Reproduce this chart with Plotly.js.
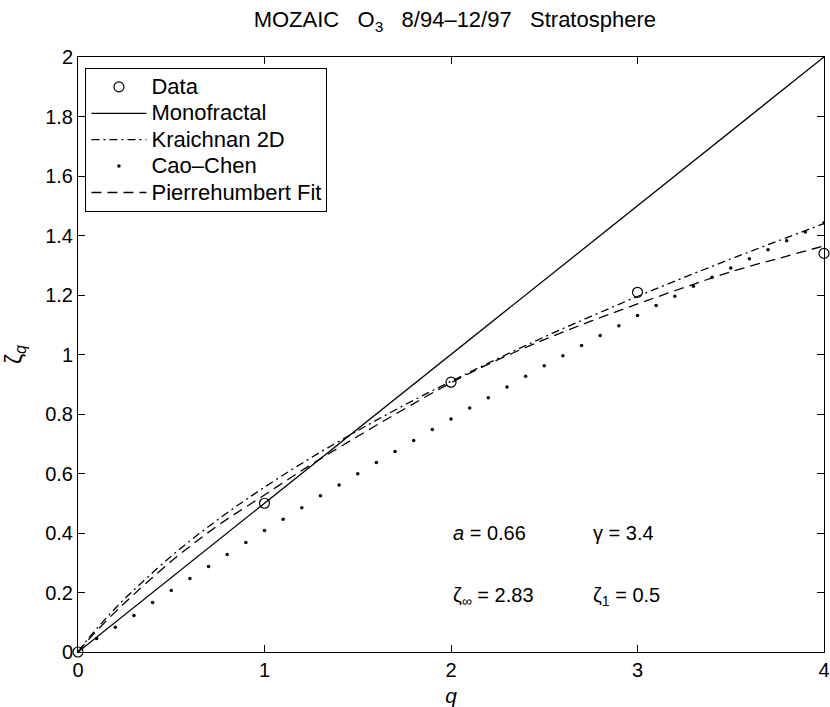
<!DOCTYPE html>
<html>
<head>
<meta charset="utf-8">
<script src="https://cdn.plot.ly/plotly-3.0.1.min.js"></script>
<style>html,body{margin:0;padding:0;background:#fff;}#chart{width:830px;height:707px;}</style>
</head>
<body>
<div id="chart"></div>
<script>
// Data points
const dataQ = [0, 1, 2, 3, 4];
const dataZeta = [0, 0.50, 0.907, 1.209, 1.34];

// Monofractal
const monoQ = [0, 4];
const monoZeta = [0, 2];

// Kraichnan 2D (dash-dot)
const kraQ = [0, 0.05, 0.1, 0.2, 0.25, 0.5, 0.75, 1, 1.25, 1.5, 1.75, 2, 2.25, 2.5, 2.75, 3, 3.25, 3.5, 3.75, 4];
const kraZeta = [0, 0.041, 0.078, 0.147, 0.179, 0.322, 0.445, 0.554, 0.653, 0.744, 0.830, 0.910, 0.986, 1.059, 1.128, 1.195, 1.259, 1.321, 1.381, 1.440];

// Cao-Chen (dots)
const caoQ = [0, 0.1, 0.2, 0.3, 0.4, 0.5, 0.6, 0.7, 0.8, 0.9, 1.0, 1.1, 1.2, 1.3, 1.4, 1.5, 1.6, 1.7, 1.8, 1.9, 2.0,
              2.1, 2.2, 2.3, 2.4, 2.5, 2.6, 2.7, 2.8, 2.9, 3.0, 3.1, 3.2, 3.3, 3.4, 3.5, 3.6, 3.7, 3.8, 3.9, 4.0];
const caoZeta = [0, 0.045, 0.083, 0.123, 0.166, 0.207, 0.247, 0.287, 0.328, 0.368, 0.408, 0.446, 0.485, 0.525, 0.561, 0.599, 0.637, 0.674, 0.711, 0.748, 0.783,
                 0.820, 0.855, 0.891, 0.927, 0.962, 0.996, 1.030, 1.064, 1.097, 1.131, 1.165, 1.196, 1.229, 1.260, 1.291, 1.322, 1.352, 1.382, 1.412, 1.443];

// Pierrehumbert Fit (dashed)
const pieQ = [0, 0.05, 0.1, 0.2, 0.25, 0.5, 0.75, 1, 1.25, 1.5, 1.75, 2, 2.25, 2.5, 2.75, 3, 3.25, 3.5, 3.75, 4];
const pieZeta = [0, 0.037, 0.071, 0.135, 0.165, 0.305, 0.425, 0.528, 0.630, 0.725, 0.817, 0.905, 0.982, 1.050, 1.112, 1.170, 1.225, 1.278, 1.322, 1.365];

const xTicks = [0, 1, 2, 3, 4];
const yTicks = [0, 0.2, 0.4, 0.6, 0.8, 1, 1.2, 1.4, 1.6, 1.8, 2];

const seriesNames = ['Data', 'Monofractal', 'Kraichnan 2D', 'Cao\u2013Chen', 'Pierrehumbert Fit'];

const FONT = 'Liberation Sans, Arial, Helvetica, sans-serif';
const big = s => '<span style="font-size:22px">' + s + '</span>';

const traces = [
  {x: dataQ, y: dataZeta, name: big(seriesNames[0]), mode: 'markers', type: 'scatter',
   marker: {symbol: 'circle-open', size: 10, color: 'black', line: {width: 1.2, color: 'black'}}, cliponaxis: false},
  {x: monoQ, y: monoZeta, name: big(seriesNames[1]), mode: 'lines', type: 'scatter',
   line: {color: 'black', width: 1.3}},
  {x: kraQ, y: kraZeta, name: big(seriesNames[2]), mode: 'lines', type: 'scatter',
   line: {color: 'black', width: 1.3, dash: '8px,4px,2px,4px', shape: 'spline'}},
  {x: caoQ, y: caoZeta, name: big(seriesNames[3]), mode: 'markers', type: 'scatter',
   marker: {symbol: 'circle', size: 3.5, color: 'black'}},
  {x: pieQ, y: pieZeta, name: big(seriesNames[4]), mode: 'lines', type: 'scatter',
   line: {color: 'black', width: 1.3, dash: '10px,6px', shape: 'spline'}}
];

const sp = '\u00a0\u00a0\u00a0';
const layout = {
  width: 830, height: 707,
  margin: {l: 78, r: 6, t: 57, b: 55},
  paper_bgcolor: 'white', plot_bgcolor: 'white',
  font: {family: FONT, size: 18, color: 'black'},
  showlegend: true,
  title: {text: 'MOZAIC' + sp + 'O<sub>3</sub>' + sp + '8/94\u201312/97' + sp + 'Stratosphere',
          font: {family: FONT, size: 22, color: 'black'},
          x: 0.548, xanchor: 'center', y: 0.972, yanchor: 'middle', yref: 'container'},
  xaxis: {range: [0, 4], tickvals: xTicks, ticktext: xTicks.map(String),
          ticks: 'inside', ticklen: 7, tickwidth: 1, tickcolor: 'black',
          showline: true, linecolor: 'black', linewidth: 1, mirror: 'ticks',
          showgrid: false, zeroline: false,
          tickfont: {family: FONT, size: 20, color: 'black'},
          title: {text: '<i>q</i>', font: {family: FONT, size: 21, color: 'black'}, standoff: 9}},
  yaxis: {range: [0, 2], tickvals: yTicks, ticktext: yTicks.map(v => String(v)),
          ticks: 'inside', ticklen: 7, tickwidth: 1, tickcolor: 'black',
          showline: true, linecolor: 'black', linewidth: 1, mirror: 'ticks',
          showgrid: false, zeroline: false,
          tickfont: {family: FONT, size: 20, color: 'black'},
          title: {text: '\u03b6<sub><i>q</i></sub>', font: {family: FONT, size: 23, color: 'black'}, standoff: 16}},
  legend: {x: 0.01, y: 0.982, xanchor: 'left', yanchor: 'top',
           bgcolor: 'white', bordercolor: 'black', borderwidth: 1,
           font: {family: FONT, size: 18, color: 'black'},
           tracegroupgap: 0, itemwidth: 55},
  annotations: [
    {x: 2.0, y: 0.40, xref: 'x', yref: 'y', xanchor: 'left', yanchor: 'middle', showarrow: false,
     text: '<i>a</i> = 0.66', font: {family: FONT, size: 20, color: 'black'}},
    {x: 2.75, y: 0.40, xref: 'x', yref: 'y', xanchor: 'left', yanchor: 'middle', showarrow: false,
     text: '\u03b3 = 3.4', font: {family: FONT, size: 20, color: 'black'}},
    {x: 2.0, y: 0.185, xref: 'x', yref: 'y', xanchor: 'left', yanchor: 'middle', showarrow: false,
     text: '\u03b6<sub>\u221e</sub> = 2.83', font: {family: FONT, size: 20, color: 'black'}},
    {x: 2.75, y: 0.185, xref: 'x', yref: 'y', xanchor: 'left', yanchor: 'middle', showarrow: false,
     text: '\u03b6<sub>1</sub> = 0.5', font: {family: FONT, size: 20, color: 'black'}}
  ]
};

Plotly.newPlot('chart', traces, layout, {staticPlot: true, displayModeBar: false});
</script>
</body>
</html>
